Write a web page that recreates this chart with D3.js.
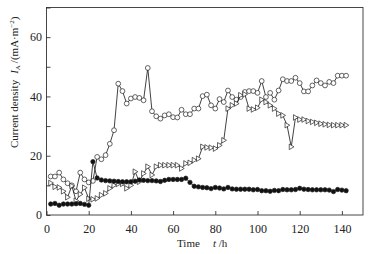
<!DOCTYPE html>
<html>
<head>
<meta charset="utf-8">
<script src="https://cdn.jsdelivr.net/npm/d3@7"></script>
<style>
  body { margin: 0; background: #fff; }
  svg { display: block; }
  text { font-family: "Liberation Serif", "Times New Roman", serif; fill: #222; }
</style>
</head>
<body>
<div id="chart"></div>
<script>
// sampling times (h)
const hours = [2, 4, 6, 8, 10, 12, 14, 16, 18, 20, 22, 24, 26, 28, 30, 32, 34, 36, 38, 40,
  42, 44, 46, 48, 50, 52, 54, 56, 58, 60, 62, 64, 66, 68, 70, 72, 74, 76, 78, 80,
  82, 84, 86, 88, 90, 92, 94, 96, 98, 100, 102, 104, 106, 108, 110, 112, 114, 116, 118, 120,
  122, 124, 126, 128, 130, 132, 134, 136, 138, 140, 142];

// open circles
const openCircle = [13, 13, 14.3, 12, 10.7, 10, 8, 14.3, 12, 11, 11.5, 19.6, 18.8, 20.2, 24, 28.6, 44.3, 41.8, 37.6, 39.3,
  39.8, 39.5, 38.7, 49.6, 35, 33.3, 32.5, 33.6, 34, 33, 32.9, 35.5, 34, 34, 35.9, 35.9, 40.1, 40.6, 37, 35.9,
  39.1, 38.1, 42, 39.8, 38.9, 39.8, 41.5, 41.8, 41.8, 41.2, 45.2, 39.8, 41.2, 38.9, 42, 45.8, 45.2, 45.2, 46.3, 44.5,
  41.7, 41.7, 43.7, 45.4, 44.5, 43.7, 44.9, 44.5, 47, 47, 47];

// open triangles
const openTriangle = [10.8, 9.5, 9.3, 8, 6, 9.8, 4.8, 7, 9.2, 5.5, 5.3, 5.6, 6.7, 7.3, 9, 10, 10.5, 10.5, 9, 10,
  14.6, 11.2, 14, 16.3, 13.5, 16.3, 16.8, 16.8, 16.8, 16.8, 16.8, 15.7, 17.4, 17.6, 18.5, 19, 23, 22.8, 22.7, 22.4,
  23.5, 25.2, 35.9, 37, 37.6, 40.4, 40.7, 35.9, 35.6, 36.2, 38.9, 38.1, 37, 35.9, 34.2, 33.6, 30.3, 23, 32.9, 32.2,
  32.2, 31.7, 31.4, 31.1, 30.8, 30.6, 30.4, 30.3, 30.3, 30.3, 30.3];

// filled circles
const filledCircle = [3.7, 3.9, 3.3, 3.7, 3.7, 3.7, 3.8, 3.9, 3.6, 3.3, 18, 12.5, 11.8, 11.6, 11.5, 11.4, 11.3, 11.2, 11.2, 11.2,
  11.4, 11.8, 11.7, 11.6, 11.6, 11.5, 11.3, 11.7, 12, 12, 12, 12, 12.4, 11, 9.7, 9.5, 9.3, 9.2, 8.9, 9.3,
  9.1, 8.8, 9.3, 8.8, 8.7, 8.7, 8.7, 8.7, 8.5, 8.6, 8.2, 8.2, 8, 8.3, 8.2, 8.6, 8.5, 8.5, 8.6, 9,
  8.7, 8.6, 8.5, 8.5, 8.5, 8.5, 8.4, 7.9, 8.6, 8.4, 8.2];

const xTicks = [0, 20, 40, 60, 80, 100, 120, 140];
const yTicks = [0, 10, 20, 30, 40, 50, 60, 70];
const yLabelled = [0, 20, 40, 60];

const W = 371, H = 254;
const margin = { top: 7.5, right: 8, bottom: 39, left: 46.5 };

const svg = d3.select("#chart").append("svg")
  .attr("width", W)
  .attr("height", H);

const x = d3.scaleLinear().domain([0, 150]).range([margin.left, W - margin.right]);
const y = d3.scaleLinear().domain([0, 70]).range([H - margin.bottom, margin.top]);

// frame
svg.append("rect")
  .attr("x", x(0)).attr("y", y(70))
  .attr("width", x(150) - x(0)).attr("height", y(0) - y(70))
  .attr("fill", "none").attr("stroke", "#333").attr("stroke-width", 0.9);

// x axis, ticks pointing inward
const xAxis = svg.append("g")
  .attr("transform", `translate(0,${y(0)})`)
  .call(d3.axisBottom(x).tickValues(xTicks).tickSizeInner(-4).tickSizeOuter(0).tickPadding(9.5));
xAxis.select(".domain").remove();
xAxis.selectAll("line").attr("stroke", "#333").attr("stroke-width", 0.9);
xAxis.selectAll("text").attr("font-size", 12).attr("font-family", "Liberation Serif").attr("fill", "#222");

// y axis
const yAxis = svg.append("g")
  .attr("transform", `translate(${x(0)},0)`)
  .call(d3.axisLeft(y).tickValues(yTicks).tickSizeInner(-4).tickSizeOuter(0).tickPadding(4.5)
    .tickFormat(d => yLabelled.includes(d) ? d : ""));
yAxis.select(".domain").remove();
yAxis.selectAll("line").attr("stroke", "#333").attr("stroke-width", 0.9);
yAxis.selectAll("text").attr("font-size", 12).attr("font-family", "Liberation Serif").attr("fill", "#222");

// series
const line = d3.line().x(d => x(d.h)).y(d => y(d.v));
const toPts = vals => hours.map((h, i) => ({ h, v: vals[i] }));

const series = [
  { name: "circle", vals: openCircle },
  { name: "triangle", vals: openTriangle },
  { name: "filled", vals: filledCircle }
];

series.forEach(s => {
  const pts = toPts(s.vals);
  svg.append("path")
    .datum(pts)
    .attr("d", line)
    .attr("fill", "none")
    .attr("stroke", "#111")
    .attr("stroke-width", 0.8);

  const g = svg.append("g");
  if (s.name === "triangle") {
    g.selectAll("path").data(pts).enter().append("path")
      .attr("d", "M-2,-2.8L2.7,0L-2,2.8Z")
      .attr("transform", d => `translate(${x(d.h)},${y(d.v)})`)
      .attr("fill", "#fff")
      .attr("stroke", "#222")
      .attr("stroke-width", 0.7);
  } else {
    g.selectAll("circle").data(pts).enter().append("circle")
      .attr("cx", d => x(d.h))
      .attr("cy", d => y(d.v))
      .attr("r", s.name === "filled" ? 2.2 : 2.4)
      .attr("fill", s.name === "filled" ? "#111" : "#fff")
      .attr("stroke", "#222")
      .attr("stroke-width", 0.7);
  }
});

// axis titles
svg.append("text")
  .attr("x", 177).attr("y", 246.5)
  .attr("font-size", 11)
  .text("Time");
const xt = svg.append("text")
  .attr("x", 213).attr("y", 246.5)
  .attr("font-size", 11);
xt.append("tspan").attr("font-style", "italic").text("t");
xt.append("tspan").text(" /h");

const yt = svg.append("text")
  .attr("transform", `translate(17.5,148) rotate(-90)`)
  .attr("text-anchor", "start")
  .attr("font-size", 11);
yt.append("tspan").text("Current density");
yt.append("tspan").attr("dx", 6).attr("font-style", "italic").text("I");
yt.append("tspan").attr("font-size", 7).attr("dy", 2).text("A");
yt.append("tspan").attr("dy", -2).attr("dx", 2).text("/(mA·m");
yt.append("tspan").attr("font-size", 7).attr("dy", -4).text("−2");
yt.append("tspan").attr("dy", 4).text(")");
</script>
</body>
</html>
